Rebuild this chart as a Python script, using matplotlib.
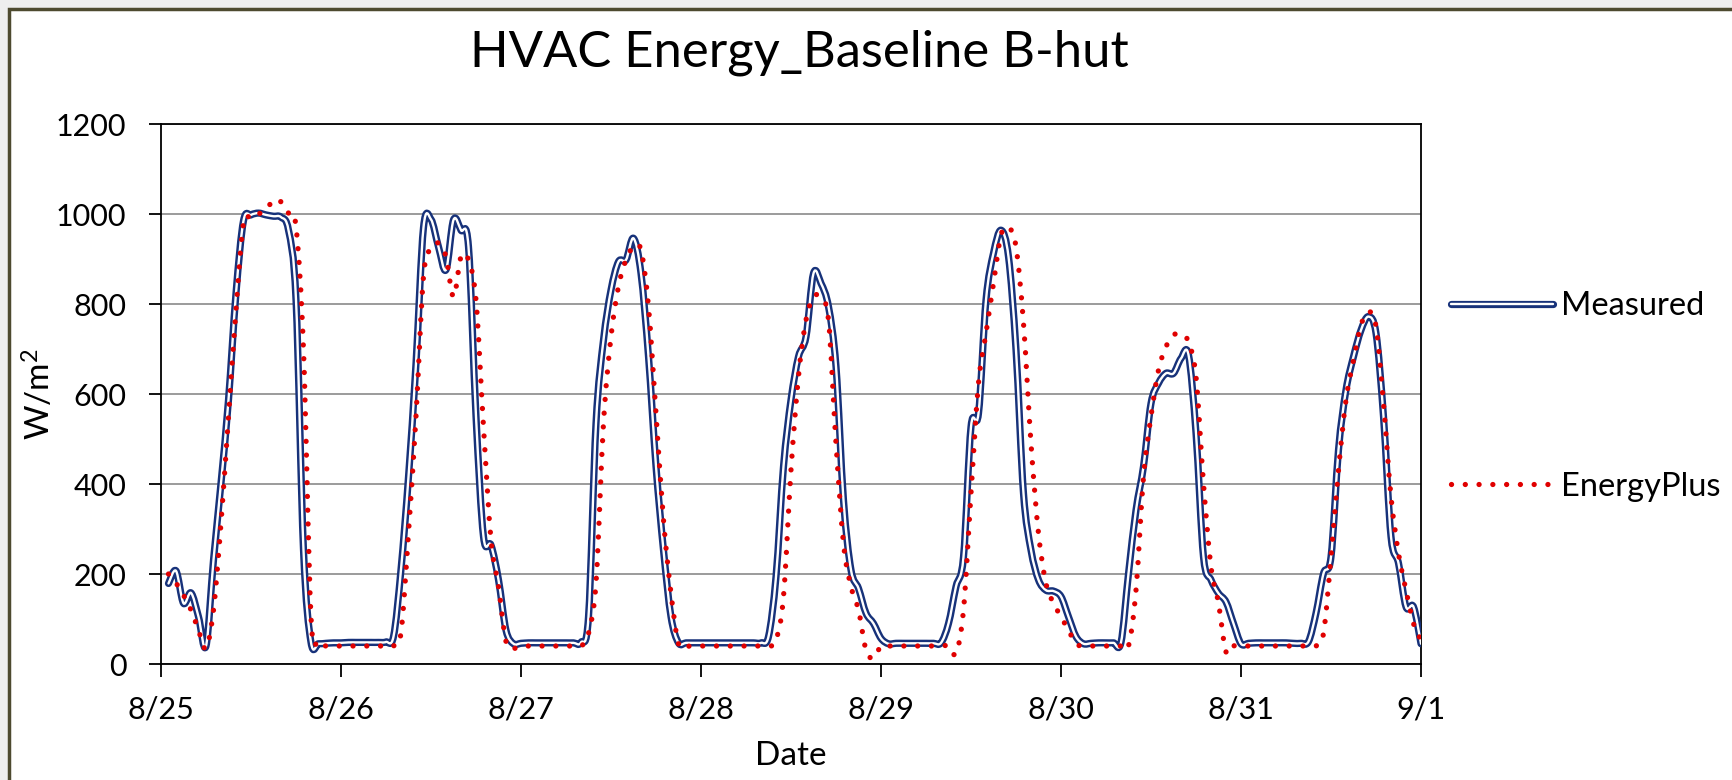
import matplotlib
matplotlib.use("Agg")
import matplotlib.pyplot as plt
import matplotlib.dates as mdates
from matplotlib.lines import Line2D
from matplotlib.patches import Rectangle, PathPatch
from matplotlib.path import Path
import numpy as np
import pandas as pd

plt.rcParams['font.family'] = ['Lato', 'DejaVu Sans']
plt.rcParams['mathtext.fontset'] = 'custom'
plt.rcParams['mathtext.rm'] = 'Lato'

# hourly values, 8/25 01:00 .. 9/1 00:00 (W/m2)
measured = [
    179, 207, 135, 158, 105, 40, 231, 402, 587, 824, 985, 998, 1002, 998, 995, 993, 964, 809, 253, 48, 45, 46, 47, 47,
    48, 48, 48, 48, 48, 49, 61, 210, 416, 668, 970, 988, 927, 876, 987, 964, 927, 550, 283, 264, 187, 75, 45, 46,
    47, 47, 47, 47, 47, 47, 47, 48, 105, 535, 720, 831, 894, 898, 946, 868, 683, 439, 253, 105, 47, 47, 47, 47,
    47, 47, 47, 47, 47, 47, 47, 47, 61, 194, 439, 587, 683, 727, 868, 846, 794, 661, 364, 209, 168, 113, 90, 57,
    45, 46, 46, 46, 46, 46, 46, 47, 90, 172, 238, 527, 557, 809, 913, 964, 905, 698, 379, 253, 187, 164, 162, 150,
    105, 61, 45, 46, 47, 47, 47, 48, 201, 342, 439, 579, 624, 646, 646, 679, 687, 513, 238, 187, 157, 138, 90, 45,
    46, 47, 47, 47, 47, 47, 46, 46, 50, 113, 201, 238, 476, 609, 683, 742, 772, 735, 550, 283, 224, 127, 127, 45,
]
energyplus = [
    200, 180, 153, 120, 75, 35, 120, 313, 550, 787, 980, 990, 1000, 1009, 1031, 1027, 1002, 972, 698, 105, 50, 40, 40, 40,
    40, 40, 40, 40, 40, 40, 40, 70, 291, 550, 861, 924, 935, 905, 816, 905, 898, 809, 527, 276, 172, 50, 35, 40,
    40, 40, 40, 40, 40, 40, 40, 40, 68, 180, 535, 727, 839, 898, 927, 920, 794, 557, 320, 157, 45, 40, 40, 40,
    40, 40, 40, 40, 40, 40, 40, 40, 40, 53, 150, 431, 639, 764, 816, 813, 764, 490, 268, 172, 120, 31, 13, 40,
    40, 40, 40, 40, 40, 40, 40, 40, 40, 24, 120, 379, 624, 735, 846, 953, 970, 927, 757, 490, 290, 179, 135, 105,
    75, 45, 40, 40, 40, 40, 40, 40, 40, 164, 416, 550, 653, 705, 731, 733, 716, 639, 401, 216, 135, 27, 40, 40,
    40, 40, 40, 40, 40, 40, 40, 40, 40, 40, 68, 238, 431, 587, 675, 753, 783, 750, 579, 372, 246, 164, 90, 53,
]
times = pd.date_range('2013-08-25 01:00', periods=len(measured), freq='h')

navy = '#17327a'
red = '#e00000'
dots = (0, (0.01, 2.6))


def smooth_path(x, y):
    # Excel-style smoothed line: cubic Bezier through every point
    pts = np.column_stack([x, y]).astype(float)
    n = len(pts)
    verts, codes = [pts[0]], [Path.MOVETO]
    for i in range(n - 1):
        p0, p1, p2, p3 = pts[max(i - 1, 0)], pts[i], pts[i + 1], pts[min(i + 2, n - 1)]
        verts += [p1 + (p2 - p0) / 6, p2 - (p3 - p1) / 6, p2]
        codes += [Path.CURVE4] * 3
    return Path(verts, codes)


fig = plt.figure(figsize=(17.32, 7.8), dpi=100)
fig.patch.set_facecolor('#eeeeee')
# slide frame
fig.patches.append(Rectangle((9 / 1732, -0.1), 1.2, (780 - 9) / 780 + 0.1, transform=fig.transFigure,
                             facecolor='white', edgecolor='#4d4a2f', linewidth=2.5, zorder=-1))

ax = fig.add_axes([161 / 1732, 116 / 780, 1260 / 1732, 540 / 780])
ax.set_facecolor('white')
ax.xaxis_date()

xn = mdates.date2num(times)
p_meas = smooth_path(xn, measured)
p_ep = smooth_path(xn, energyplus)
ax.add_patch(PathPatch(p_meas, facecolor='none', edgecolor=navy, lw=5.2, joinstyle='round', capstyle='round', zorder=3))
ax.add_patch(PathPatch(p_meas, facecolor='none', edgecolor='white', lw=1.7, joinstyle='round', capstyle='round', zorder=4))
ax.add_patch(PathPatch(p_ep, facecolor='none', edgecolor=red, lw=3.8, linestyle=dots, capstyle='round', zorder=5))

ax.set_xlim(mdates.date2num(pd.Timestamp('2013-08-25')), mdates.date2num(pd.Timestamp('2013-09-01')))
ax.set_ylim(0, 1200)
ax.set_yticks(range(0, 1201, 200))
ax.xaxis.set_major_locator(mdates.DayLocator())
ax.xaxis.set_major_formatter(plt.FuncFormatter(lambda v, p: f"{mdates.num2date(v).month}/{mdates.num2date(v).day}"))
ax.grid(axis='y', color='#8a8a8a', lw=1.2)
ax.set_axisbelow(True)
for s in ax.spines.values():
    s.set_color('black')
    s.set_linewidth(1.3)
ax.tick_params(axis='both', direction='out', length=9, width=1.3, labelsize=22, pad=14)
ax.tick_params(axis='y', pad=16)

ax.set_xlabel('Date', fontsize=24)
ax.xaxis.set_label_coords(0.5, -0.142)
ax.set_ylabel(r'$\mathregular{W/m^2}$', fontsize=24)
ax.yaxis.set_label_coords(-0.0825, 0.5)
fig.text(0.4615, 1 - 53 / 780, 'HVAC Energy_Baseline B-hut', fontsize=36.5, ha='center', va='center')

h_meas = (Line2D([], [], color=navy, lw=5.2, solid_capstyle='round'),
          Line2D([], [], color='white', lw=1.7, solid_capstyle='round'))
h_ep = Line2D([], [], color=red, lw=3.8, linestyle=dots, dash_capstyle='round')
fig.legend([h_meas, h_ep], ['Measured', 'EnergyPlus'], loc='upper left',
           bbox_to_anchor=(1422 / 1732, 1 - 262 / 780), frameon=False, fontsize=23.5,
           handlelength=3.1, handletextpad=0.25, labelspacing=4.6)

fig.savefig('out.png', dpi=100, facecolor=fig.get_facecolor())
